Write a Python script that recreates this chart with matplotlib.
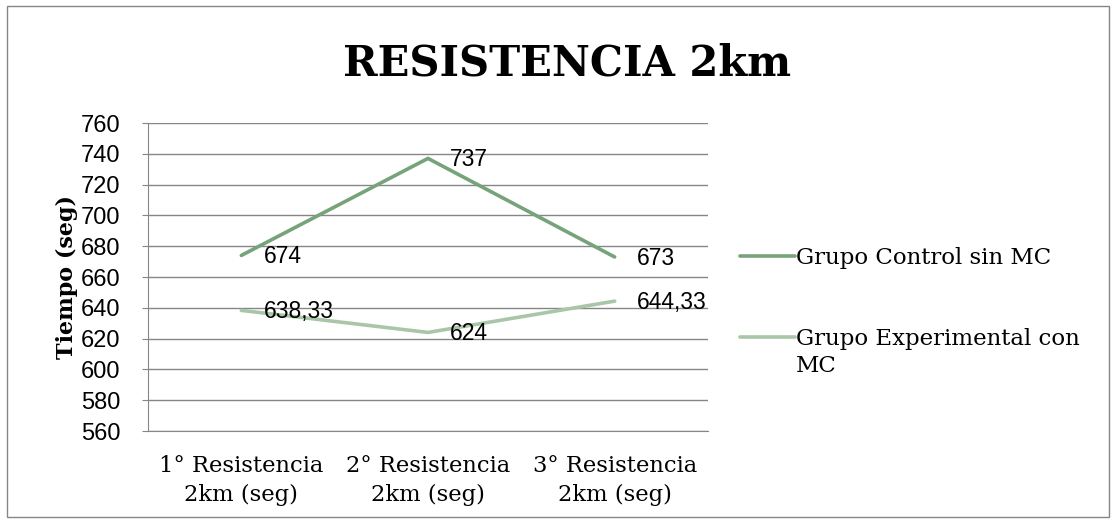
import matplotlib.pyplot as plt
from matplotlib.patches import Rectangle

# datos
categorias = ['1° Resistencia\n2km (seg)', '2° Resistencia\n2km (seg)', '3° Resistencia\n2km (seg)']
control = [674, 737, 673]
experimental = [638.33, 624, 644.33]
etiquetas_control = ['674', '737', '673']
etiquetas_exp = ['638,33', '624', '644,33']
y_ticks = list(range(560, 761, 20))
serie_control = 'Grupo Control sin MC'
serie_exp = ['Grupo Experimental con', 'MC']

color_control = '#77A37A'
color_exp = '#AAC6A8'
gris = '#868686'

fig = plt.figure(figsize=(11.14, 5.22), dpi=100)
ax = fig.add_axes([148 / 1114, 1 - 431 / 522, 560 / 1114, 308 / 522])

x = list(range(len(categorias)))
ax.plot(x, control, color=color_control, linewidth=2.6, solid_capstyle='round',
        label=serie_control)
ax.plot(x, experimental, color=color_exp, linewidth=2.6, solid_capstyle='round',
        label=serie_exp[0])

for xi, v, t in zip(x, control, etiquetas_control):
    ax.annotate(t, (xi, v), xytext=(16, -1), textcoords='offset points',
                va='center', ha='left', fontsize=16.5, family='Liberation Sans')
for xi, v, t in zip(x, experimental, etiquetas_exp):
    ax.annotate(t, (xi, v), xytext=(16, -1), textcoords='offset points',
                va='center', ha='left', fontsize=16.5, family='Liberation Sans')

ax.set_xlim(-0.5, 2.5)
ax.set_ylim(560, 760)
ax.set_yticks(y_ticks)
ax.set_xticks(x)
ax.set_xticklabels(categorias, fontsize=16.3, family='DejaVu Serif', linespacing=1.4)
ax.tick_params(axis='x', length=0, pad=17)
ax.tick_params(axis='y', length=4, color=gris, pad=16)
for lbl in ax.get_yticklabels():
    lbl.set_family('Liberation Sans')
    lbl.set_fontsize(17)
ax.grid(True, axis='y', color=gris, linewidth=1)
ax.set_axisbelow(True)
for s in ['top', 'right']:
    ax.spines[s].set_visible(False)
ax.spines['left'].set_color(gris)
ax.spines['bottom'].set_color(gris)

ax.set_ylabel('Tiempo (seg)', fontsize=16, fontweight='bold', family='DejaVu Serif', labelpad=2)

fig.text(567 / 1114, 1 - 64 / 522, 'RESISTENCIA 2km', ha='center', va='center',
         fontsize=30, fontweight='bold', family='DejaVu Serif')

leg = ax.legend(loc='upper left', bbox_to_anchor=(1.02, 0.665), frameon=False,
                prop={'family': 'DejaVu Serif', 'size': 16.5}, handlelength=2.4,
                handletextpad=0.05, labelspacing=2.6)

# segunda línea de la leyenda, debajo del texto (como en el original)
fig.canvas.draw()
bb = leg.get_texts()[1].get_window_extent()
fig.text(bb.x0 / 1114, (bb.y0 - 27) / 522 + (bb.height / 2) / 522, serie_exp[1],
         ha='left', va='center', fontsize=16.5, family='DejaVu Serif')

# borde exterior
fig.patches.append(Rectangle((7 / 1114, 5 / 522), 1102 / 1114, 511 / 522,
                             transform=fig.transFigure, fill=False,
                             edgecolor=gris, linewidth=1))

plt.savefig('out.png', dpi=100)
plt.close()
